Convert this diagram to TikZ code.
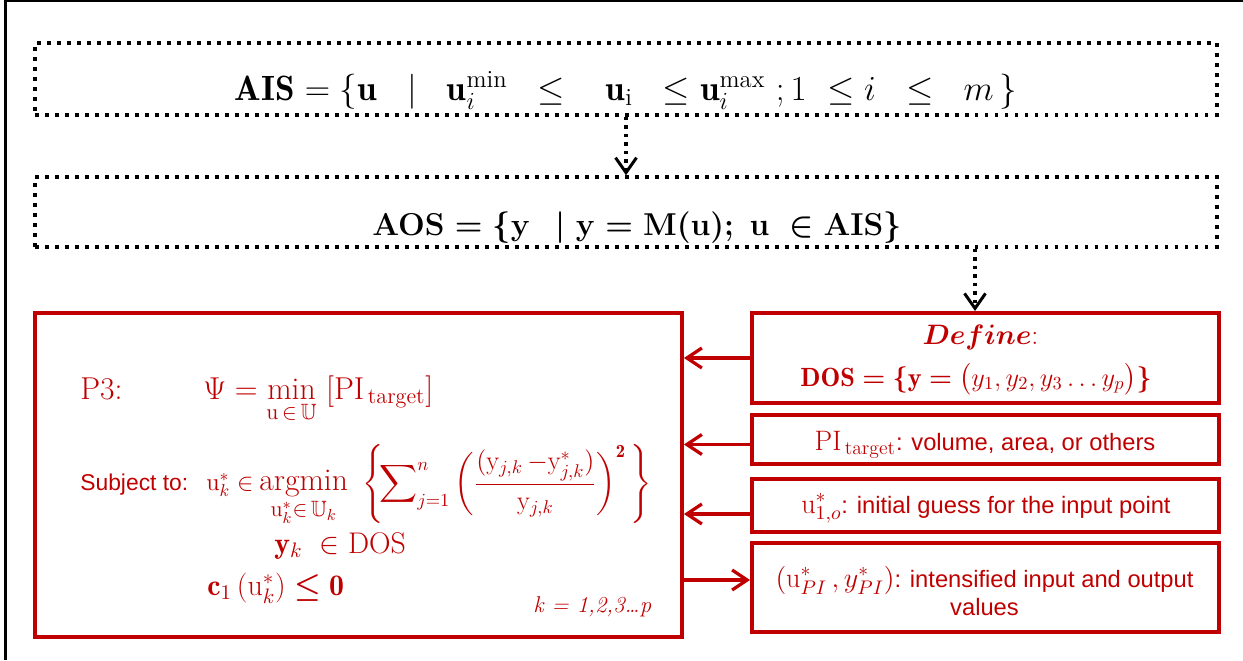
\RequirePackage{fix-cm}
\documentclass[tikz,border=0pt]{standalone}
\usepackage{amsmath,amssymb}
\usepackage{fontspec}
\setsansfont{Liberation Sans}
\usetikzlibrary{arrows.meta}
\definecolor{myred}{HTML}{C00000}
\newcommand{\fsz}[2]{\fontsize{#1}{#2}\selectfont}
\newcommand{\semi}{\mathpunct{\char"3B}}
\begin{document}
\begin{tikzpicture}[x=0.02cm,y=-0.02cm,
  dotbox/.style={draw=black,line width=0.07cm,dash pattern=on 0.07cm off 0.13cm,minimum width=23.64cm,inner sep=0pt},
  redbox/.style={draw=myred,line width=0.08cm,inner sep=0pt},
  dotarrow/.style={draw=black,line width=0.07cm,dash pattern=on 0.07cm off 0.1cm,-{Straight Barb[length=0.3cm,width=0.42cm,line width=0.06cm]}},
  redarrow/.style={draw=myred,line width=0.065cm,-{Straight Barb[length=0.3cm,width=0.4cm,line width=0.065cm]}},
  txt/.style={inner sep=0pt,anchor=base},
  redtxt/.style={txt,text=myred}]
\useasboundingbox (0,0) rectangle (1243,660);
\fill[white] (0,0) rectangle (1243,660);
\draw[line width=0.05cm] (1243,1) -- (5.5,1) -- (5.5,660);

% top boxes
\node[dotbox,minimum height=1.44cm] (ais) at (626,79) {};
\node[txt] (aistxt) at (626,100) {{\fsz{20}{24}$\mathbf{AIS} = \{\mathbf{u}\ \;\mid\ \;\mathbf{u}_i^{\mathrm{min}}\ \;\le\ \ \;\mathbf{u}_{\mathrm{i}}\ \;\le \mathbf{u}_i^{\mathrm{max}}\ \semi 1\ \le i\ \;\le\ \;m\,\}$}};
\node[dotbox,minimum height=1.4cm] (aos) at (626,212) {};
\node[txt] (aostxt) at (637,235) {{\fsz{18}{22}\boldmath$\mathbf{AOS} = \{\mathbf{y}\ \,\mid\mathbf{y} = \mathbf{M}(\mathbf{u})\semi\ \mathbf{u}\ \in \mathbf{AIS}\}$}};

% P3 box
\node[redbox,minimum width=12.94cm,minimum height=6.48cm] (p3) at (358.5,475) {};
\node[redtxt,anchor=base west] (p3lab) at (80,399) {\fsz{18}{22}P3:};
\node[redtxt,anchor=base west] (psi) at (203,399) {{\fsz{18}{22}$\displaystyle \Psi = \min_{\mathrm{u}\,\in\,\mathbb{U}}\ [\mathrm{PI}_{\,\mathrm{target}}]$}};
\node[redtxt,anchor=base west] (subj) at (80,490) {\fsz{13}{16}\sffamily Subject to:};
\node[redtxt,anchor=base west] (uk) at (206,490) {{\fsz{14}{17}$\mathrm{u}_k^* \in$}};
\node[redtxt,anchor=base west] (argm) at (259,490) {{\fsz{18}{22}$\displaystyle \operatorname*{argmin}_{\mathrm{u}_k^*\in\,\mathbb{U}_k}$}};
\node[redtxt,anchor=base west] (sumexp) at (362,491) {{\fsz{15}{18}$\displaystyle\left\{\!\sum\nolimits_{j=1}^{n} \left(\dfrac{(\mathrm{y}_{j,k}\,{-}\mathrm{y}^*_{j,k})}{\mathrm{y}_{j,k}}\right)^{\mathbf{2}}\,\right\}$}};
\node[redtxt,anchor=base west] (yk) at (274,553) {{\fsz{17}{20}$\mathbf{y}_k\ \in \mathrm{DOS}$}};
\node[redtxt,anchor=base west] (c1) at (207,595) {{\fsz{17}{20}$\mathbf{c}_1\,(\mathrm{u}_k^*) \boldsymbol{\le} \mathbf{0}$}};
\node[redtxt,anchor=base west] (kk) at (533,612) {{\fsz{13}{16}\itshape k = 1,2,3\ldots p}};

% right boxes
\node[redbox,minimum width=9.34cm,minimum height=1.8cm] (dos) at (985.5,358) {};
\node[redtxt] (def) at (980.5,344) {{\fsz{16}{19}$\boldsymbol{Define}$:}};
\node[redtxt] (dostxt) at (976,386) {{\fsz{15}{18}$\mathbf{DOS} \boldsymbol{=} \boldsymbol{\{}\mathbf{y} \boldsymbol{=} \bigl(y_1, y_2, y_3 \ldots y_p\bigr)\boldsymbol{\}}$}};

\node[redbox,minimum width=9.34cm,minimum height=0.98cm] (pi) at (985.5,439.5) {};
\node[redtxt] (pitxt) at (985,450) {{\fsz{16}{19}$\mathrm{PI}_{\,\mathrm{target}}$\fsz{13.5}{16}\sffamily : volume, area, or others}};

\node[redbox,minimum width=9.34cm,minimum height=1.06cm] (ui) at (985.5,505.5) {};
\node[redtxt] (uitxt) at (986,513) {{\fsz{16}{19}$\mathrm{u}_{1,o}^*$\fsz{13.5}{16}\sffamily : initial guess for the input point}};

\node[redbox,minimum width=9.34cm,minimum height=1.78cm] (out) at (985.5,587.5) {};
\node[redtxt] (outtxt) at (984.5,587) {{\fsz{16}{19}$(\mathrm{u}_{PI}^*\,, y_{PI}^*)$\fsz{13.5}{16}\sffamily : intensified input and output}};
\node[redtxt] (outtxt2) at (984.5,615) {{\fsz{13.5}{16}\sffamily values}};

% connectors
\draw[dotarrow] (ais.south) -- (aos.north);
\coordinate (a2) at (975,0);
\draw[dotarrow] (aos.south -| a2) -- (dos.north -| a2);
\coordinate (pia) at ([yshift=-0.1cm]pi.west);
\coordinate (uia) at ([yshift=-0.17cm]ui.west);
\coordinate (outa) at ([yshift=0.15cm]out.west);
\draw[redarrow] (dos.west) -- (dos.west -| p3.east);
\draw[redarrow] (pia) -- (pia -| p3.east);
\draw[redarrow] (uia) -- (uia -| p3.east);
\draw[redarrow] (outa -| p3.east) -- (outa);
\end{tikzpicture}
\end{document}
